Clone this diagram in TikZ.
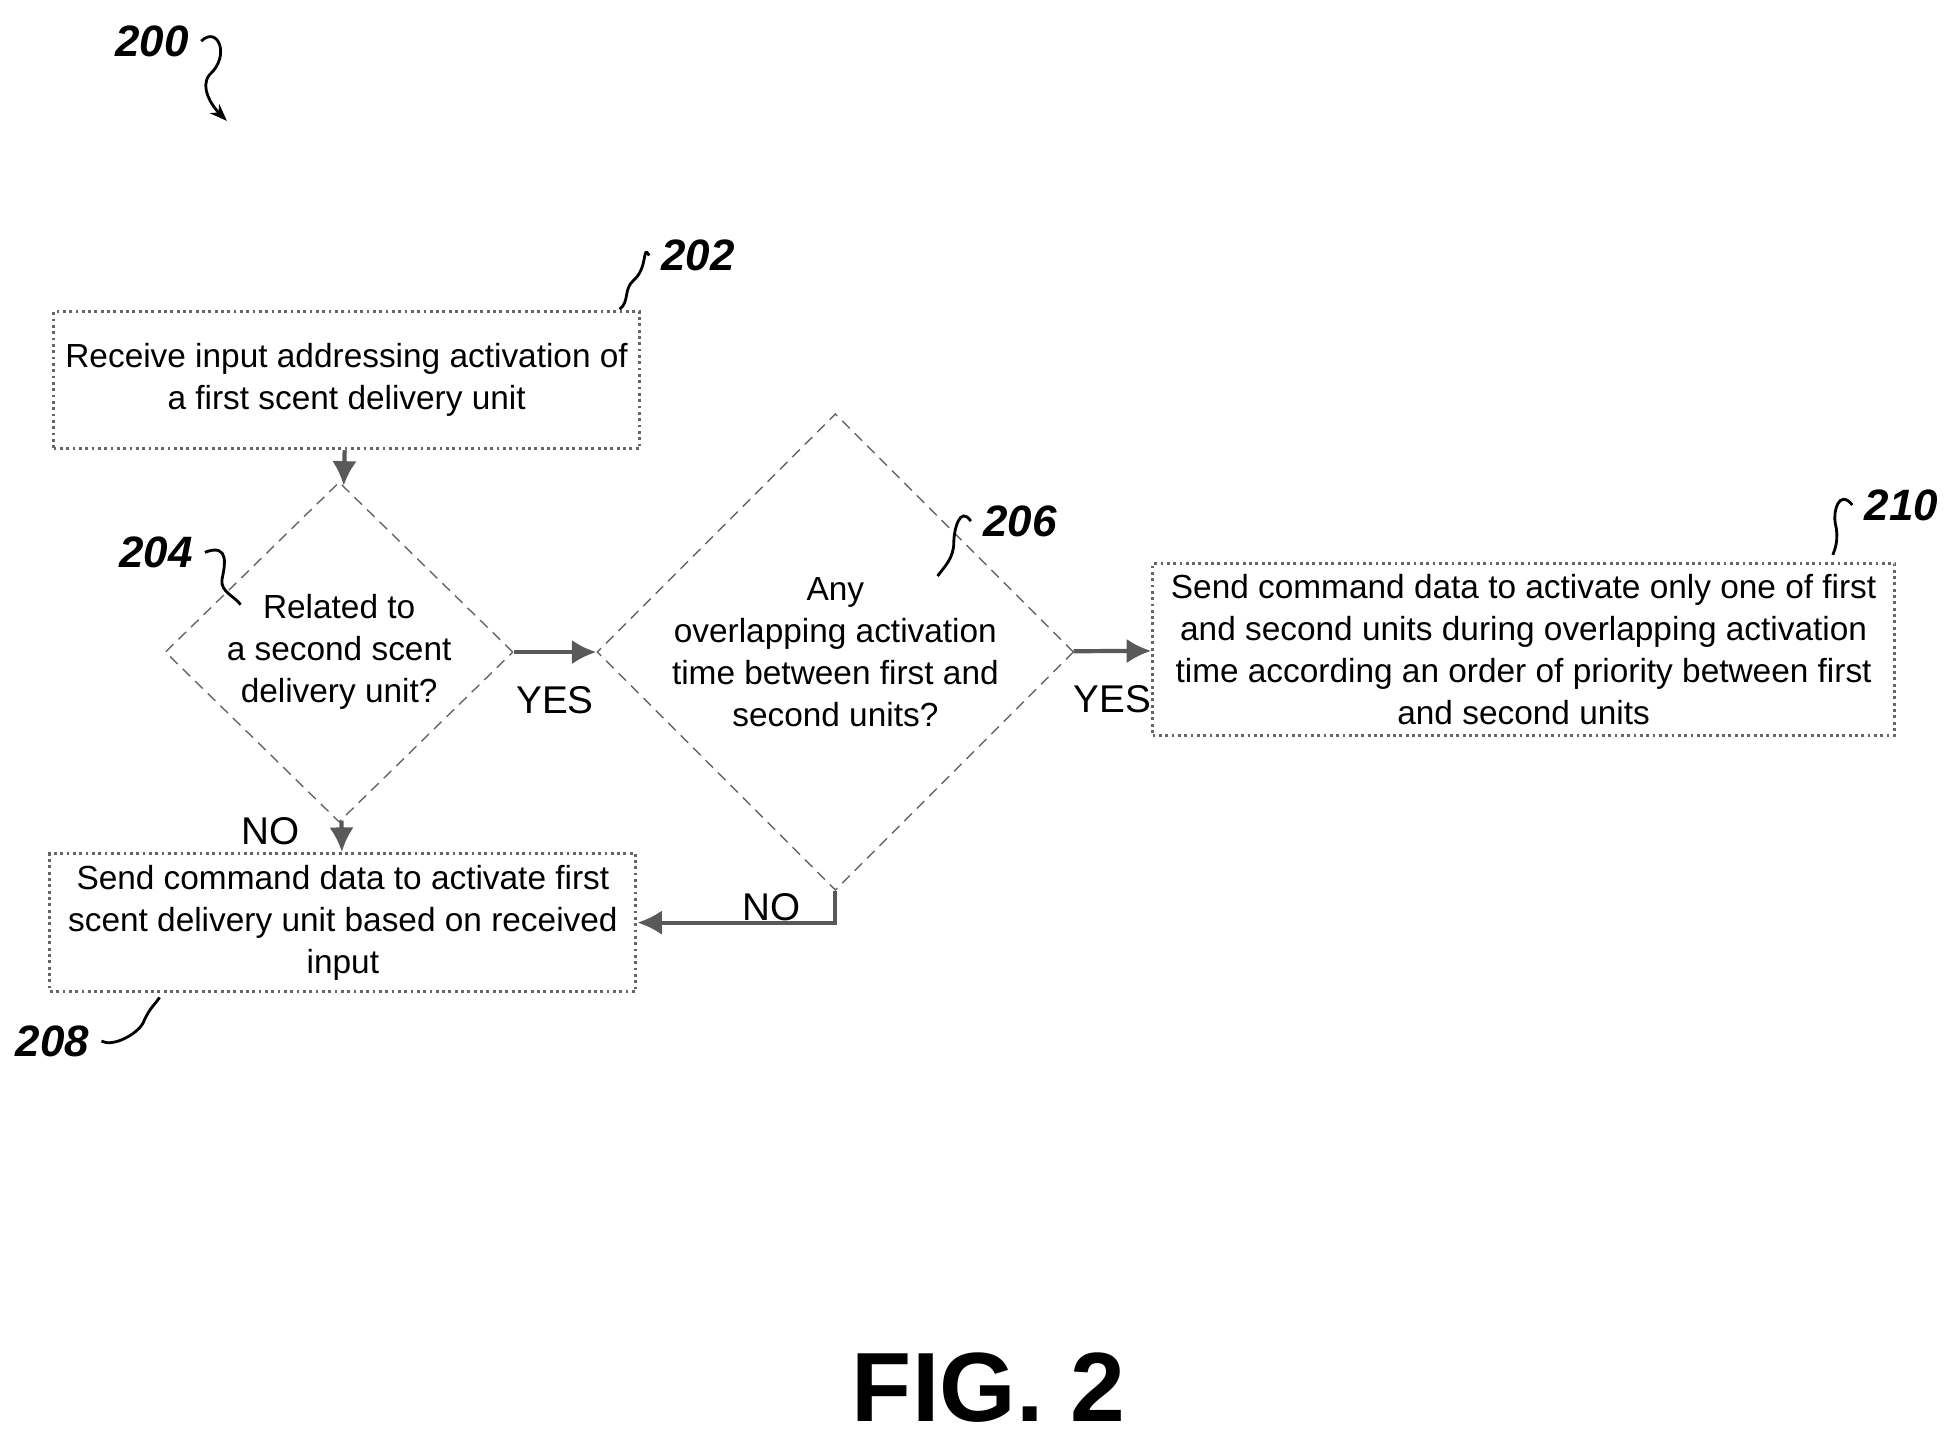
\documentclass[tikz,border=0pt]{standalone}
\usepackage{fontspec}
\setmainfont{Liberation Sans}
\usetikzlibrary{shapes.geometric,arrows.meta}
\tikzset{
    box/.style={draw=gray!80!black, densely dotted, thick, align=center, inner sep=2pt,
        font=\fontsize{9.5}{12}\selectfont},
    choice/.style={draw=gray!80!black, densely dashed, diamond, align=center, inner sep=0pt,
        font=\fontsize{9.5}{12}\selectfont},
    flow/.style={-{Latex[length=7pt,width=7pt]}, very thick, draw=gray!70!black},
    tag/.style={font=\fontsize{12.5}{14}\selectfont\bfseries\itshape},
    lead/.style={thick, -{Stealth[length=5pt]}},
    word/.style={font=\fontsize{11}{13}\selectfont},
}
\begin{document}
\begin{tikzpicture}[x=0.01247cm, y=-0.01247cm]
    \useasboundingbox (0,0) rectangle (1568,1160);
    % steps
    \node[box, minimum width=470*0.01247cm, minimum height=110*0.01247cm] (recv) at (278,305)
        {Receive input addressing activation of\\a first scent delivery unit};
    \node[choice, minimum width=279*0.01247cm, minimum height=165*0.01247cm] (rel) at (272,523)
        {Related to\\a second scent\\delivery unit?};
    \node[choice, minimum width=344*0.01247cm, minimum height=205*0.01247cm] (ovl) at (670,523)
        {Any\\overlapping activation\\time between first and\\second units?};
    \node[box, minimum width=595*0.01247cm, minimum height=138*0.01247cm] (prio) at (1222,521)
        {Send command data to activate only one of first\\and second units during overlapping activation\\time according an order of priority between first\\and second units};
    \node[box, minimum width=470*0.01247cm, minimum height=111*0.01247cm] (send) at (275,740)
        {Send command data to activate first\\scent delivery unit based on received\\input};
    % connectors
    \draw[flow] (recv) -- (rel);
    \draw[flow] (rel) -- (ovl) node[pos=0.5, below=6pt, word] {YES};
    \draw[flow] (ovl) -- (prio) node[pos=0.5, below=6pt, word] {YES};
    \draw[flow] (rel) -- (send) node[pos=0.35, left=8pt, word] {NO};
    \draw[flow] (ovl.south) |- (send.east) node[pos=0.25, left=6pt, word] {NO};
    % reference numerals
    \node[tag] (n200) at (122,33) {200};
    \draw[lead] (n200.east) .. controls (175,20) and (185,45) .. (168,60) .. controls (160,70) and (170,85) .. (182,97);
    \node[tag] (n202) at (560,205) {202};
    \draw[thick] (n202.west) .. controls (515,195) and (520,215) .. (508,225) .. controls (500,232) and (505,242) .. (497,248);
    \node[tag] (n204) at (125,443) {204};
    \draw[thick] (n204.east) .. controls (185,435) and (180,455) .. (178,465) .. controls (177,475) and (188,478) .. (193,485);
    \node[tag] (n206) at (818,418) {206};
    \draw[thick] (n206.west) .. controls (770,405) and (765,425) .. (765,435) .. controls (765,448) and (757,455) .. (752,462);
    \node[tag] (n210) at (1525,405) {210};
    \draw[thick] (n210.west) .. controls (1475,392) and (1470,410) .. (1472,420) .. controls (1475,432) and (1472,440) .. (1470,445);
    \node[tag] (n208) at (42,835) {208};
    \draw[thick] (n208.east) .. controls (90,840) and (110,830) .. (115,820) .. controls (120,808) and (125,805) .. (128,800);
    \node[font=\fontsize{28}{30}\selectfont\bfseries] (fig) at (793,1113) {FIG. 2};
\end{tikzpicture}
\end{document}
